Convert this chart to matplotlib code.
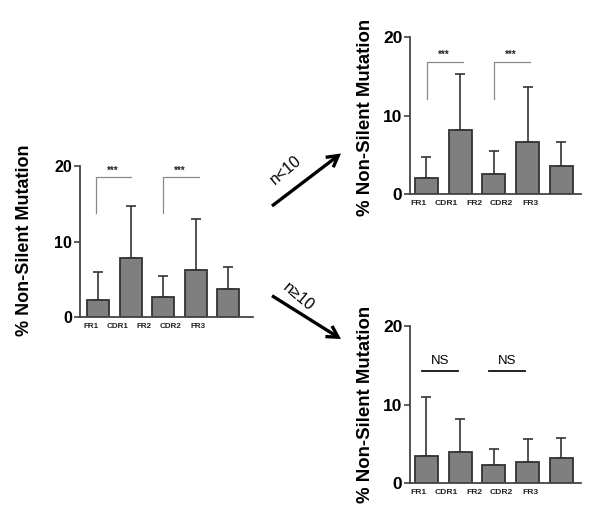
import matplotlib
matplotlib.use("Agg")
import matplotlib.pyplot as plt
from matplotlib.patches import FancyArrowPatch

plt.rcParams['font.family'] = ['Liberation Sans', 'DejaVu Sans']

regions = ["FR1", "CDR1", "FR2", "CDR2", "FR3"]
label_pos = [-0.22, 0.58, 1.42, 2.22, 3.07]

all_mean = [2.3, 7.8, 2.6, 6.2, 3.65]
all_err_top = [5.9, 14.7, 5.45, 13.0, 6.65]

lt10_mean = [2.1, 8.2, 2.6, 6.6, 3.65]
lt10_err_top = [4.8, 15.3, 5.5, 13.7, 6.65]

ge10_mean = [3.5, 4.0, 2.3, 2.75, 3.2]
ge10_err_top = [11.0, 8.15, 4.3, 5.65, 5.75]

W, H = 601, 518
fig = plt.figure(figsize=(W / 100, H / 100), dpi=100)

BAR = "#7f7f7f"
EDGE = "#333333"
SPINE = "#444444"


def fx(px):
    return px / W


def fy(py):
    return 1 - py / H


def panel(rect, means, tops, xlim, ticksize, xlabsize):
    ax = fig.add_axes(rect)
    x = list(range(len(means)))
    errs = [t - m for t, m in zip(tops, means)]
    ax.bar(x, means, width=0.68, color=BAR, edgecolor=EDGE, linewidth=1.3, zorder=2)
    ax.errorbar(x, means, yerr=[[0] * len(errs), errs], fmt="none", ecolor=EDGE,
                elinewidth=1.2, capsize=3.8, capthick=1.2, zorder=1)
    ax.set_xlim(*xlim)
    ax.set_ylim(0, 20)
    ax.set_yticks([0, 10, 20])
    ax.set_yticklabels(["0", "10", "20"], fontsize=ticksize, fontweight="bold")
    ax.set_xticks(label_pos)
    ax.set_xticklabels(regions, fontsize=xlabsize, fontweight="bold", color="#222222")
    ax.tick_params(axis="x", length=0, pad=4)
    ax.tick_params(axis="y", length=4, width=1.2, color=SPINE, pad=1.5)
    for s in ["top", "right"]:
        ax.spines[s].set_visible(False)
    for s in ["left", "bottom"]:
        ax.spines[s].set_color(SPINE)
        ax.spines[s].set_linewidth(1.3)
    ax.patch.set_alpha(0)
    return ax


def star_brackets(ax, y_top, y_leg, y_txt, pairs):
    for (a, b) in pairs:
        ax.plot([a, a, b], [y_leg, y_top, y_top], color="#8a8a8a", lw=0.9, clip_on=False)
        ax.text((a + b) / 2 - 0.03, y_txt, "***", ha="center", va="center", fontsize=7,
                fontweight="bold", color="#222222")


# Left panel (all)
axL = panel([fx(80), fy(317), fx(253) - fx(80), fy(166) - fy(317)],
            all_mean, all_err_top, (-0.565, 4.77), 11.5, 5.8)
star_brackets(axL, 18.5, 13.8, 19.3, [(-0.08, 1.0), (1.99, 3.09)])

# Top right (n<10)
axT = panel([fx(410), fy(194.3), fx(581) - fx(410), fy(37.3) - fy(194.3)],
            lt10_mean, lt10_err_top, (-0.48, 4.58), 12.5, 6.1)
star_brackets(axT, 16.8, 12.2, 17.8, [(0.02, 1.08), (2.01, 3.06)])

# Bottom right (n>=10)
axB = panel([fx(410), fy(483.3), fx(581) - fx(410), fy(326) - fy(483.3)],
            ge10_mean, ge10_err_top, (-0.48, 4.58), 12.5, 6.1)
for (a, b) in [(-0.12, 0.93), (1.85, 2.91)]:
    axB.plot([a, b], [14.3, 14.3], color="#111111", lw=1.3)
    axB.text((a + b) / 2, 15.6, "NS", ha="center", va="center", fontsize=9.5)

# y labels
ylab = "% Non-Silent Mutation"
fig.text(fx(25), fy(240), ylab, rotation=90, ha="center", va="center",
         fontsize=13, fontweight="bold")
fig.text(fx(365), fy(117), ylab, rotation=90, ha="center", va="center",
         fontsize=13.4, fontweight="bold")
fig.text(fx(365), fy(404), ylab, rotation=90, ha="center", va="center",
         fontsize=13.4, fontweight="bold")

# arrows
for (p0, p1) in [((272, 206), (341, 153.5)), ((272, 295.7), (341, 339))]:
    arr = FancyArrowPatch((fx(p0[0]), fy(p0[1])), (fx(p1[0]), fy(p1[1])),
                          transform=fig.transFigure, arrowstyle="->,head_length=8,head_width=4.5",
                          color="black", lw=2.4, mutation_scale=1, shrinkA=0, shrinkB=0,
                          joinstyle="miter", capstyle="butt")
    fig.add_artist(arr)

fig.text(fx(286), fy(170), "n<10", rotation=40, ha="center", va="center", fontsize=11.5)
fig.text(fx(298), fy(297), "n≥10", rotation=-40, ha="center", va="center", fontsize=11.5)

fig.savefig("out.png", dpi=100)
